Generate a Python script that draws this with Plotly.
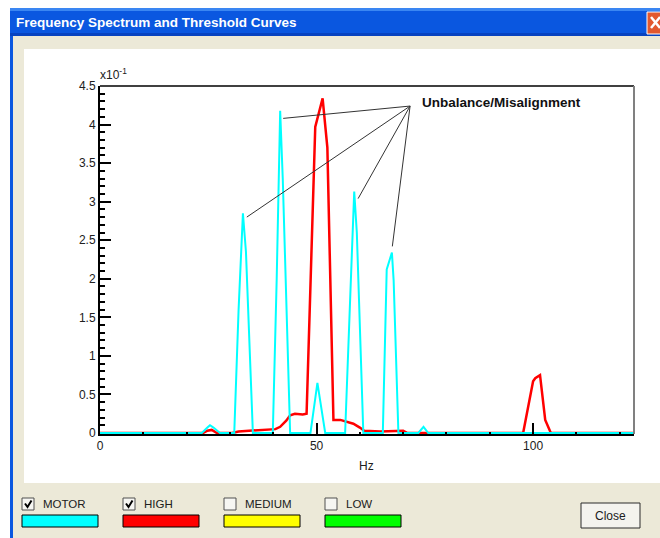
import plotly.graph_objects as go

# ---------------- data (values in units of x10^-1) ----------------
motor_hz = [0, 23.5, 24.8, 25.4, 26.2, 27.7, 31.0, 32.0, 33.0, 33.7, 35.3,
            39.9, 40.8, 41.6, 42.2, 43.9, 48.6, 50.2, 52.0,
            56.6, 57.8, 58.7, 59.3, 60.8, 65.3, 66.2, 67.4, 67.8, 68.9,
            73.5, 74.7, 75.8, 123.3]
motor_val = [0, 0, 0.07, 0.10, 0.07, 0, 0, 1.6, 2.85, 2.35, 0,
             0, 2.0, 4.18, 3.30, 0, 0, 0.65, 0,
             0, 1.8, 3.13, 2.60, 0, 0, 2.12, 2.34, 1.98, 0,
             0, 0.08, 0, 0]

high_hz = [0, 23.8, 24.8, 25.8, 27.0, 30.5, 32.0, 35.4, 38.5, 40.5, 41.6,
           43.0, 43.9, 45.0, 46.8, 47.7, 49.7, 51.4, 52.5, 53.9, 55.5,
           57.0, 58.5, 60.0, 61.0, 64.7, 68.0, 70.0, 71.0,
           97.7, 100.0, 100.5, 101.6, 102.8, 104.1, 123.3]
high_val = [0, 0, 0.03, 0.04, 0, 0, 0.02, 0.03, 0.04, 0.05, 0.08,
            0.16, 0.23, 0.25, 0.24, 0.25, 3.97, 4.34, 3.70, 0.17, 0.17,
            0.15, 0.12, 0.07, 0.03, 0.02, 0.03, 0.03, 0,
            0, 0.67, 0.71, 0.75, 0.17, 0, 0]

y_tick_vals = [0, 0.5, 1, 1.5, 2, 2.5, 3, 3.5, 4, 4.5]
y_tick_text = ["0", "0.5", "1", "1.5", "2", "2.5", "3", "3.5", "4", "4.5"]
x_tick_vals = [0, 50, 100]
x_tick_text = ["0", "50", "100"]

legend_names = ["MOTOR", "HIGH", "MEDIUM", "LOW"]
legend_colors = ["#00FFFF", "#FF0000", "#FFFF00", "#00FF00"]
legend_checked = [True, True, False, False]

annot_text = "Unbalance/Misalignment"
annot_src = (71.6, 4.24)
annot_targets = [(33.9, 2.80), (42.3, 4.08), (59.6, 3.04), (67.5, 2.42)]

# ---------------- geometry ----------------
W, H = 660, 538
PL, PR, PT, PB = 100, 634, 86, 434


def px(x):
    return (x - PL) / (PR - PL)


def py(y):
    return (PB - y) / (PB - PT)


def rect(x0, y0, x1, y1, fill, line=None, lw=0, layer="below"):
    return dict(type="rect", xref="paper", yref="paper",
                x0=px(x0), x1=px(x1), y0=py(y1), y1=py(y0),
                fillcolor=fill, line=dict(color=line or fill, width=lw),
                layer=layer)


def seg(x0, y0, x1, y1, color, w, layer="above"):
    return dict(type="line", xref="paper", yref="paper",
                x0=px(x0), x1=px(x1), y0=py(y0), y1=py(y1),
                line=dict(color=color, width=w), layer=layer)


FONT = "Liberation Sans, Arial, sans-serif"

fig = go.Figure()
fig.add_trace(go.Scatter(x=high_hz, y=high_val, mode="lines",
                         line=dict(color="#FF0000", width=2.5),
                         hoverinfo="skip", showlegend=False))
fig.add_trace(go.Scatter(x=motor_hz, y=motor_val, mode="lines",
                         line=dict(color="#00FFFF", width=2),
                         hoverinfo="skip", showlegend=False))

shapes = []
# window chrome
shapes.append(rect(12, 36, 662, 540, "#ECE9D8"))
shapes.append(rect(10, 8, 662, 36, "#0A57E0"))
shapes.append(rect(10, 8, 662, 11, "#3A86F2"))
shapes.append(rect(10, 33, 662, 36, "#0743C0"))
shapes.append(rect(10, 36, 13, 540, "#0A57E0"))
shapes.append(rect(24, 49, 662, 483, "#FFFFFF"))
# close X in title bar
shapes.append(rect(647, 12, 664, 34, "#E2582E", "#FFFFFF", 1, layer="above"))
shapes.append(seg(651, 17, 660, 28, "#FFFFFF", 2.5))
shapes.append(seg(651, 28, 660, 17, "#FFFFFF", 2.5))
# frame lines of the plot
shapes.append(seg(PL, PT, PR, PT, "#000000", 1.5))
shapes.append(seg(PR, PT, PR, PB, "#808080", 2))

annotations = []
annotations.append(dict(text="<b>Frequency Spectrum and Threshold Curves</b>",
                        xref="paper", yref="paper", x=px(14), y=py(22),
                        xanchor="left", yanchor="middle", showarrow=False,
                        font=dict(family=FONT, size=13.5, color="#FFFFFF")))

# legend checkboxes and color bars
lx = [22, 123, 224, 325]
for name, col, chk, x0 in zip(legend_names, legend_colors, legend_checked, lx):
    shapes.append(rect(x0, 498, x0 + 12, 510, "#F6F6F2", "#505050", 1, layer="above"))
    if chk:
        path = "M {:.5f},{:.5f} L {:.5f},{:.5f} L {:.5f},{:.5f}".format(
            px(x0 + 3), py(503.5), px(x0 + 5.5), py(507), px(x0 + 9.5), py(500.5))
        shapes.append(dict(type="path", xref="paper", yref="paper", path=path,
                           line=dict(color="#000000", width=2), layer="above"))
    shapes.append(rect(x0, 515, x0 + 76, 527, col, "#000000", 1, layer="above"))
    annotations.append(dict(text=name, xref="paper", yref="paper",
                            x=px(x0 + 19), y=py(504), xanchor="left", yanchor="middle",
                            showarrow=False,
                            font=dict(family=FONT, size=11.5, color="#202020")))

# Close button
shapes.append(rect(581, 503, 640, 528, "#F4F3EE", "#2A2A2A", 1, layer="above"))
annotations.append(dict(text="Close", xref="paper", yref="paper",
                        x=px(610.5), y=py(516), xanchor="center", yanchor="middle",
                        showarrow=False, font=dict(family=FONT, size=12, color="#202020")))

# annotation lines + label
for tx, ty in annot_targets:
    shapes.append(dict(type="line", xref="x", yref="y",
                       x0=annot_src[0], y0=annot_src[1], x1=tx, y1=ty,
                       line=dict(color="#333333", width=1), layer="above"))
annotations.append(dict(text="<b>" + annot_text + "</b>", xref="paper", yref="paper",
                        x=px(420), y=py(102.5), xanchor="left", yanchor="middle",
                        showarrow=False, font=dict(family=FONT, size=13.5, color="#111111")))

annotations.append(dict(text="x10<sup>-1</sup>", xref="paper", yref="paper",
                        x=px(98), y=py(74), xanchor="left", yanchor="middle",
                        showarrow=False, font=dict(family=FONT, size=12, color="#202020")))
annotations.append(dict(text="Hz", xref="paper", yref="paper",
                        x=px(366), y=py(466), xanchor="center", yanchor="middle",
                        showarrow=False, font=dict(family=FONT, size=12, color="#202020")))

fig.update_layout(
    width=W, height=H,
    margin=dict(l=PL, r=W - PR, t=PT, b=H - PB, pad=0),
    paper_bgcolor="#FFFFFF", plot_bgcolor="#FFFFFF",
    shapes=shapes, annotations=annotations,
    showlegend=False,
    xaxis=dict(range=[0, 123.3], showgrid=False, zeroline=False,
               showline=True, linecolor="#000000", linewidth=2,
               ticks="inside", ticklen=11, tickwidth=2, tickcolor="#000000",
               tickvals=x_tick_vals, ticktext=x_tick_text,
               tickfont=dict(family=FONT, size=12, color="#202020"),
               minor=dict(dtick=10, tick0=0, ticks="inside", ticklen=2,
                          tickwidth=2, tickcolor="#000000"),
               fixedrange=True, automargin=False),
    yaxis=dict(range=[-0.013, 4.5], showgrid=False, zeroline=False,
               showline=True, linecolor="#000000", linewidth=2,
               ticks="inside", ticklen=11, tickwidth=2, tickcolor="#000000",
               tickvals=y_tick_vals, ticktext=y_tick_text,
               tickfont=dict(family=FONT, size=12, color="#202020"),
               minor=dict(dtick=0.1, tick0=0, ticks="inside", ticklen=5,
                          tickwidth=2, tickcolor="#000000"),
               fixedrange=True, automargin=False),
)

fig.write_html("out.html", config={"displayModeBar": False},
               post_script="document.body.style.margin='0';"
                           "document.body.style.overflow='hidden';")
